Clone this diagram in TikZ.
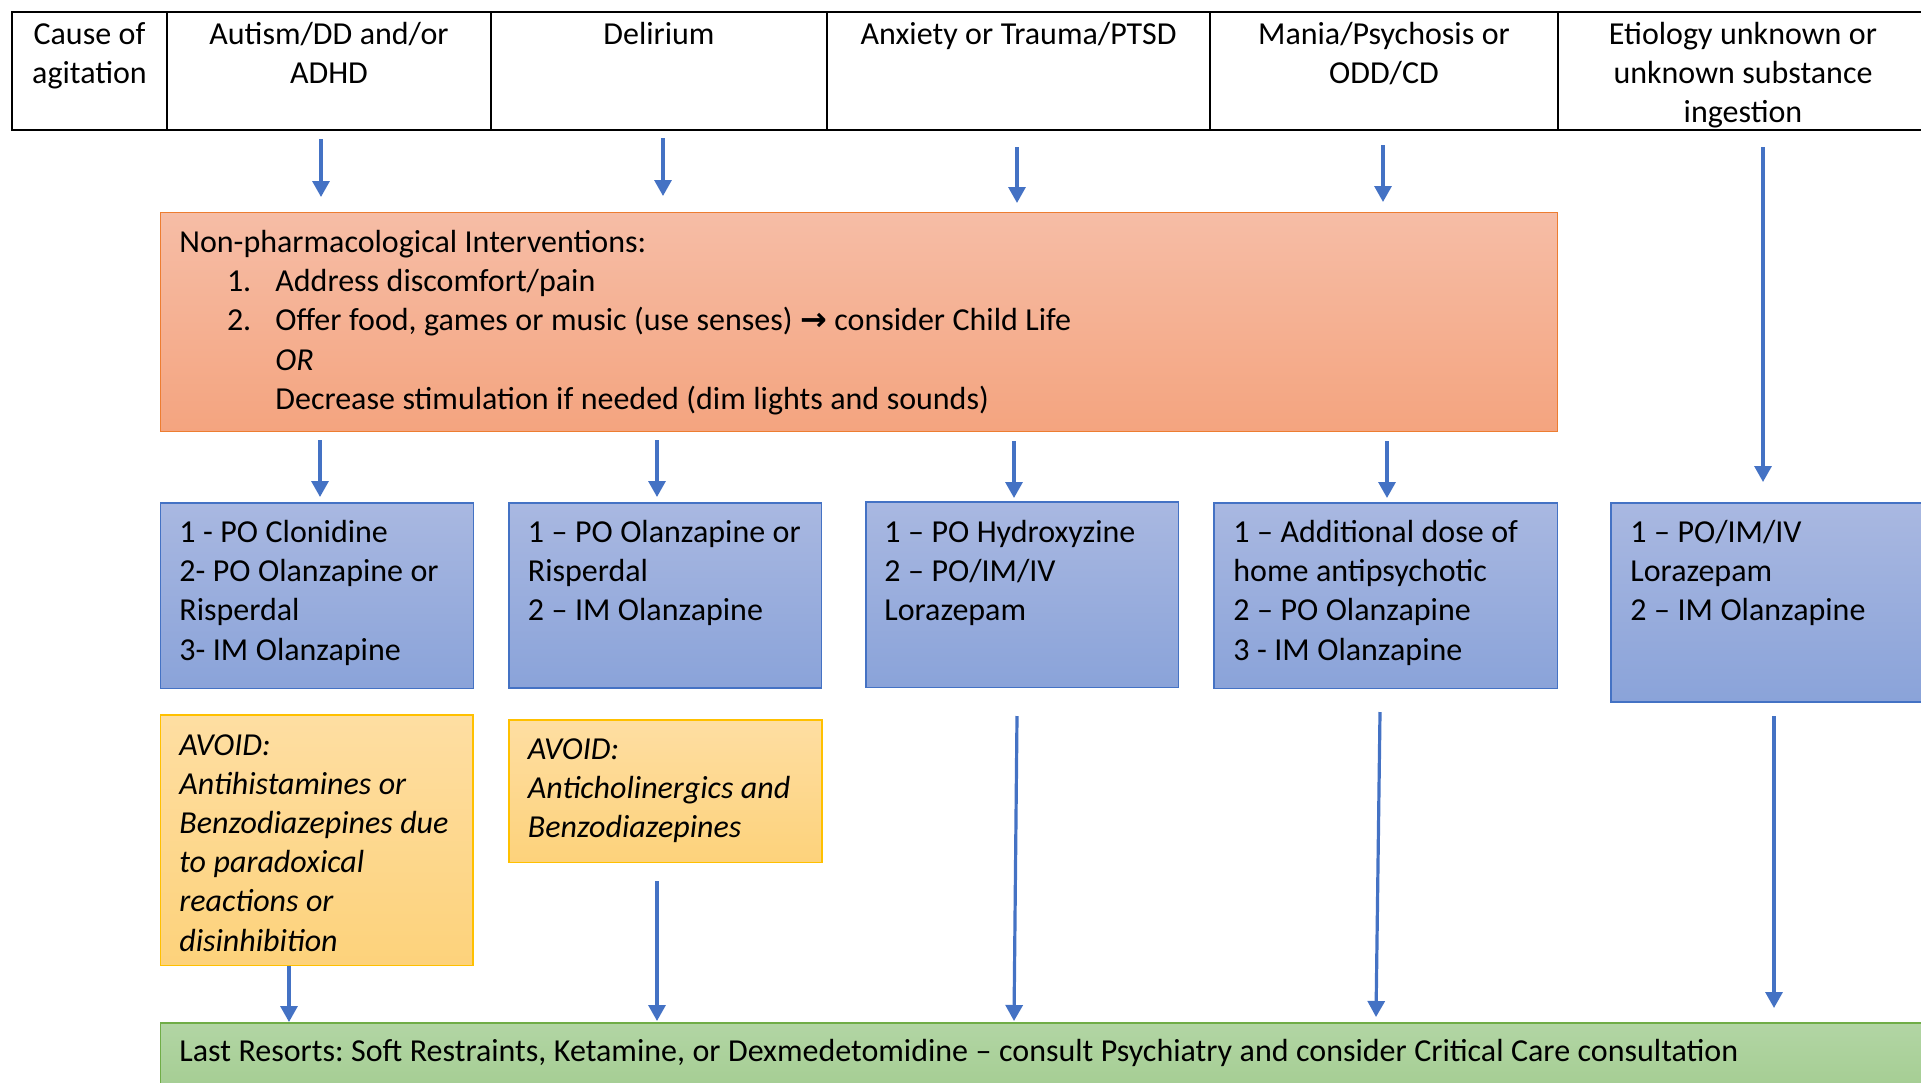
\documentclass[tikz,border=0pt]{standalone}
\usepackage{fontspec}
\setmainfont{Carlito}
\newfontfamily\symfont{DejaVu Sans}
\usetikzlibrary{arrows.meta}
\definecolor{arrblue}{HTML}{4472C4}
\definecolor{orgtop}{HTML}{F6BDA6}
\definecolor{orgbot}{HTML}{F4A47F}
\definecolor{orgline}{HTML}{ED7D31}
\definecolor{bluetop}{HTML}{A9B8E1}
\definecolor{bluebot}{HTML}{8AA3D9}
\definecolor{yeltop}{HTML}{FEDEA2}
\definecolor{yelbot}{HTML}{FDD27B}
\definecolor{yelline}{HTML}{FFC000}
\definecolor{grntop}{HTML}{B2D5A4}
\definecolor{grnbot}{HTML}{A2CC8F}
\definecolor{grnline}{HTML}{70AD47}
\newcommand{\diagfont}{\fontsize{16}{19.6}\selectfont\frenchspacing}
\tikzset{
  cell/.style={draw=black, line width=1pt, anchor=north west, inner sep=0pt, outer sep=0pt, minimum height=59pt},
  txtbase/.style={font=\diagfont, inner sep=0pt, execute at begin node={\spaceskip=3.75pt\relax\xspaceskip=3.75pt\relax}},
  hdr/.style={txtbase, anchor=base, align=center, text width=#1},
  body/.style={txtbase, anchor=base west, align=left, text width=#1},
  boxbase/.style={anchor=north west, inner sep=0pt, outer sep=0pt, line width=0.6pt},
  orgbox/.style={boxbase, draw=orgline, top color=orgtop, bottom color=orgbot},
  bluebox/.style={boxbase, draw=arrblue, top color=bluetop, bottom color=bluebot},
  yelbox/.style={boxbase, draw=yelline, top color=yeltop, bottom color=yelbot},
  grnbox/.style={boxbase, draw=grnline, top color=grntop, bottom color=grnbot},
  arr/.style={draw=arrblue, line width=1.6pt, -{Triangle[length=8pt,width=8.5pt]}}
}
\begin{document}
\begin{tikzpicture}[x=0.5pt,y=-0.5pt]
\useasboundingbox (0,0) rectangle (1921,1082);
\clip (0,0) rectangle (1921,1082);
% header table
\node[cell, minimum width=77.5pt] (c0) at (12,12) {};
\node[cell, minimum width=162pt] (c1) at (167,12) {};
\node[cell, minimum width=168pt] (c2) at (491,12) {};
\node[cell, minimum width=191.5pt] (c3) at (827,12) {};
\node[cell, minimum width=174pt] (c4) at (1210,12) {};
\node[cell, minimum width=185pt] (c5) at (1558,12) {};
\node[hdr=75pt] (t0) at (89.5,44.5) {Cause of\\agitation};
\node[hdr=155pt] (t1) at (329,44.5) {Autism/DD and/or\\ADHD};
\node[hdr=160pt] (t2) at (659,44.5) {Delirium};
\node[hdr=185pt] (t3) at (1018.5,44.5) {Anxiety or Trauma/PTSD};
\node[hdr=170pt] (t4) at (1384,44.5) {Mania/Psychosis or\\ODD/CD};
\node[hdr=180pt] (t5) at (1743,44.5) {Etiology unknown or\\unknown substance\\ingestion};
% boxes
\node[orgbox, minimum width=698.6pt, minimum height=109.7pt] (org) at (160.5,212.3) {};
\node[bluebox, minimum width=156.45pt, minimum height=92.7pt] (b1) at (160.5,503) {};
\node[bluebox, minimum width=156.4pt, minimum height=92.5pt] (b2) at (509,503) {};
\node[bluebox, minimum width=156.3pt, minimum height=92.8pt] (b3) at (866,502) {};
\node[bluebox, minimum width=171.85pt, minimum height=92.8pt] (b4) at (1214,503) {};
\node[bluebox, minimum width=159.5pt, minimum height=99.5pt] (b5) at (1611,503) {};
\node[yelbox, minimum width=156.25pt, minimum height=125.3pt] (y1) at (160.5,715) {};
\node[yelbox, minimum width=156.5pt, minimum height=71.4pt] (y2) at (509,720) {};
\node[grnbox, minimum width=884.75pt, minimum height=40pt] (g) at (160.5,1023) {};
% texts
\node[body=650pt] (otext) at (179,252.5) {Non-pharmacological Interventions:\\
\hspace*{23.8pt}\makebox[24.2pt][l]{1.}Address discomfort/pain\\
\hspace*{23.8pt}\makebox[24.2pt][l]{2.}Offer food, games or music (use senses) {\symfont\bfseries →} consider Child Life\\
\hspace*{48pt}\textit{OR}\\
\hspace*{48pt}Decrease stimulation if needed (dim lights and sounds)};
\node[body=150pt] (b1t) at (179,542.5) {1 - PO Clonidine\\2- PO Olanzapine or\\Risperdal\\3- IM Olanzapine};
\node[body=150pt] (b2t) at (527.5,542.5) {1 – PO Olanzapine or\\Risperdal\\2 – IM Olanzapine};
\node[body=150pt] (b3t) at (884,542) {1 – PO Hydroxyzine\\2 – PO/IM/IV\\Lorazepam};
\node[body=165pt] (b4t) at (1233,542.5) {1 – Additional dose of\\home antipsychotic\\2 – PO Olanzapine\\3 - IM Olanzapine};
\node[body=150pt] (b5t) at (1630,542.5) {1 – PO/IM/IV\\Lorazepam\\2 – IM Olanzapine};
\node[body=150pt, font=\diagfont\itshape] (y1t) at (179,755) {AVOID:\\Antihistamines or\\Benzodiazepines due\\to paradoxical\\reactions or\\disinhibition};
\node[body=150pt, font=\diagfont\itshape] (y2t) at (527.5,759.5) {AVOID:\\Anticholinergics and\\Benzodiazepines};
\node[body=900pt] (gt) at (179,1061.5) {Last Resorts: Soft Restraints, Ketamine, or Dexmedetomidine – consult Psychiatry and consider Critical Care consultation};
% arrow end points
\coordinate (a1s) at (321,139);  \coordinate (a1e) at (321,197);
\coordinate (a2s) at (663,138);  \coordinate (a2e) at (663,196);
\coordinate (a3s) at (1017,147); \coordinate (a3e) at (1017,203);
\coordinate (a4s) at (1383,145); \coordinate (a4e) at (1383,202);
\coordinate (a5s) at (1763,147); \coordinate (a5e) at (1763,482);
\coordinate (m1s) at (320,440);  \coordinate (m1e) at (320,497);
\coordinate (m2s) at (657,440);  \coordinate (m2e) at (657,497);
\coordinate (m3s) at (1014,441); \coordinate (m3e) at (1014,498);
\coordinate (m4s) at (1387,441); \coordinate (m4e) at (1387,498);
\coordinate (l1s) at (289,966);  \coordinate (l1e) at (289,1022);
\coordinate (l2s) at (657,881);  \coordinate (l2e) at (657,1021);
\coordinate (l3s) at (1017,716); \coordinate (l3e) at (1014,1021);
\coordinate (l4s) at (1380,712); \coordinate (l4e) at (1376,1017);
\coordinate (l5s) at (1774,716); \coordinate (l5e) at (1774,1008);
\foreach \n in {a1,a2,a3,a4,a5,m1,m2,m3,m4,l1,l2,l3,l4,l5}
  \draw[arr] (\n s) -- (\n e);
\end{tikzpicture}
\end{document}
